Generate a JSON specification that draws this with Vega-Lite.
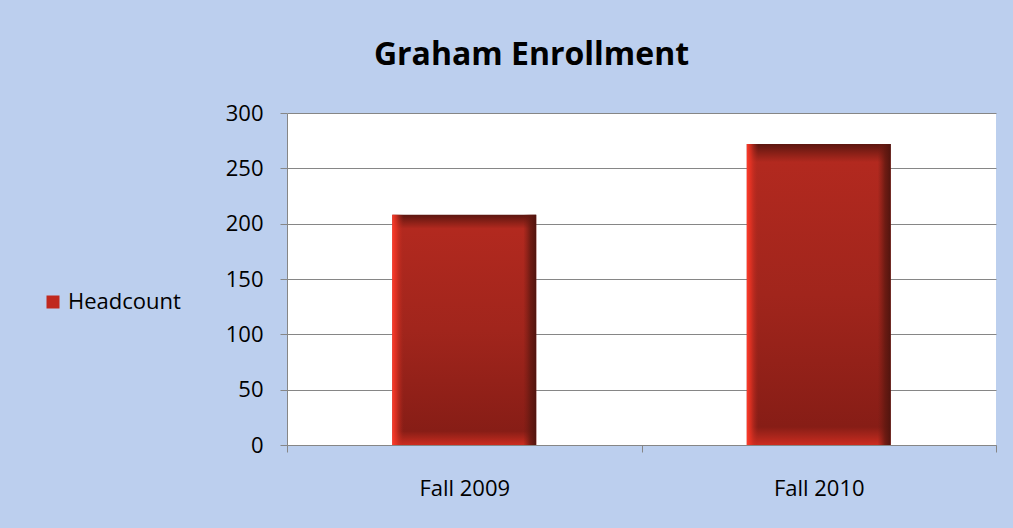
{
  "$schema": "https://vega.github.io/schema/vega-lite/v6.json",
  "width": 709,
  "height": 332,
  "autosize": {"type": "none"},
  "padding": {"left": 287, "top": 113, "right": 17, "bottom": 83},
  "background": "#bccfee",
  "title": {
    "text": "Graham Enrollment",
    "font": "Open Sans",
    "fontSize": 32,
    "fontWeight": "bold",
    "color": "#000000",
    "anchor": "middle",
    "frame": "group",
    "dx": -110,
    "baseline": "alphabetic",
    "offset": 5
  },
  "data": {
    "values": [
      {"term": "Fall 2009", "headcount": 208, "series": "Headcount"},
      {"term": "Fall 2010", "headcount": 272, "series": "Headcount"}
    ]
  },
  "encoding": {
    "x": {
      "field": "term",
      "type": "nominal",
      "scale": {"paddingInner": 0, "paddingOuter": 0},
      "axis": {
        "title": null,
        "labelAngle": 0,
        "labelFont": "Open Sans",
        "labelFontSize": 22,
        "labelColor": "#000000",
        "labelPadding": 26,
        "tickBand": "extent",
        "tickSize": 7,
        "tickColor": "#868686",
        "domainColor": "#868686",
        "grid": false
      }
    },
    "y": {
      "field": "headcount",
      "type": "quantitative",
      "scale": {"domain": [0, 300], "nice": false},
      "axis": {
        "title": null,
        "values": [0, 50, 100, 150, 200, 250, 300],
        "labelFont": "Open Sans",
        "labelFontSize": 22,
        "labelColor": "#000000",
        "labelPadding": 17,
        "tickSize": 7,
        "tickColor": "#868686",
        "domainColor": "#868686",
        "grid": true,
        "gridColor": "#868686",
        "gridOpacity": 1
      }
    }
  },
  "layer": [
    {
      "mark": {
        "type": "bar",
        "width": {"band": 0.406},
        "fill": {
          "gradient": "linear",
          "x1": 0, "y1": 0, "x2": 0, "y2": 1,
          "stops": [
            {"offset": 0, "color": "#5c1610"},
            {"offset": 0.035, "color": "#8f2118"},
            {"offset": 0.06, "color": "#b2291f"},
            {"offset": 0.5, "color": "#a1251c"},
            {"offset": 0.94, "color": "#871d16"},
            {"offset": 0.97, "color": "#a8251b"},
            {"offset": 1, "color": "#cc2c1f"}
          ]
        }
      }
    },
    {
      "mark": {
        "type": "bar",
        "width": {"band": 0.406},
        "fill": {
          "gradient": "linear",
          "x1": 0, "y1": 0, "x2": 1, "y2": 0,
          "stops": [
            {"offset": 0, "color": "rgba(255,59,42,1)"},
            {"offset": 0.03, "color": "rgba(235,52,36,0.7)"},
            {"offset": 0.08, "color": "rgba(178,41,31,0)"},
            {"offset": 0.91, "color": "rgba(110,28,20,0)"},
            {"offset": 0.96, "color": "rgba(95,24,16,0.8)"},
            {"offset": 1, "color": "rgba(80,20,14,1)"}
          ]
        }
      }
    },
    {
      "mark": {"type": "bar", "opacity": 0, "width": {"band": 0.406}},
      "encoding": {
        "color": {
          "field": "series",
          "type": "nominal",
          "scale": {"range": ["#c0281e"]},
          "legend": {
            "title": null,
            "orient": "none",
            "legendX": -245,
            "legendY": 178,
            "symbolType": "square",
            "symbolSize": 169,
            "symbolOpacity": 1,
            "symbolStrokeColor": "#5c1610",
            "symbolStrokeWidth": 0,
            "labelFont": "Open Sans",
            "labelFontSize": 22,
            "labelColor": "#000000",
            "labelOffset": 4
          }
        }
      }
    }
  ],
  "config": {
    "view": {"fill": "#ffffff", "stroke": null}
  }
}
